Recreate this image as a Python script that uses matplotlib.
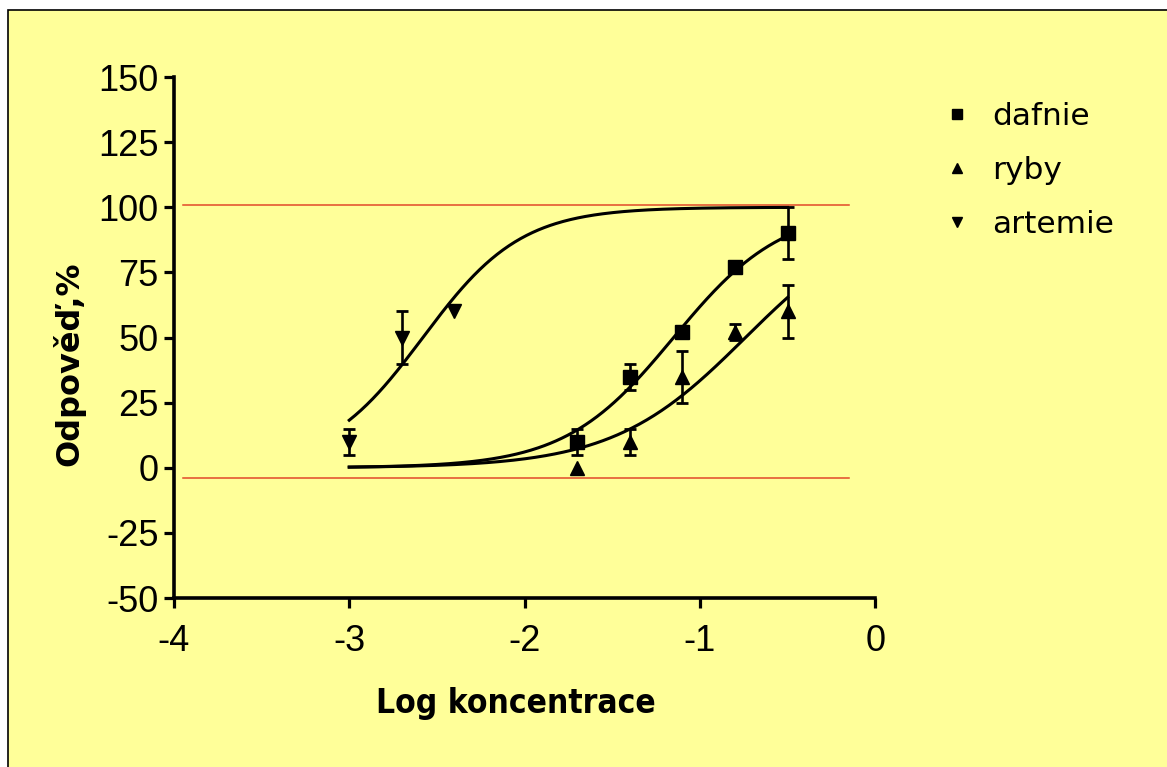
"""Dose-response curves (dafnie / ryby / artemie) on a log concentration axis."""

import numpy as np
import matplotlib
matplotlib.use('Agg')  # Non-interactive backend
import matplotlib.pyplot as plt
from matplotlib.patches import Rectangle

# Measured points (log concentration, response %, error; nan = no error bar)
dafnie_x = [-1.7, -1.4, -1.1, -0.8, -0.5]
dafnie_y = [10, 35, 52, 77, 90]
dafnie_err = [5, 5, 2, 2, 10]

ryby_x = [-1.7, -1.4, -1.1, -0.8, -0.5]
ryby_y = [0, 10, 35, 52, 60]
ryby_err = [np.nan, 5, 10, 3, 10]

artemie_x = [-3.0, -2.7, -2.4]
artemie_y = [10, 50, 60]
artemie_err = [5, 10, np.nan]

# Fitted sigmoid parameters: bottom, top, logEC50, hill slope
dafnie_fit = [0, 100, -1.15, 1.4]
ryby_fit = [0, 100, -0.74, 1.15]
artemie_fit = [0, 100, -2.58, 1.55]
fit_range = [-3.0, -0.5]

# Horizontal reference lines (top / bottom plateau)
ref_levels = [101, -4]
ref_span = [-3.95, -0.15]

x_ticks = [-4, -3, -2, -1, 0]
y_ticks = [-50, -25, 0, 25, 50, 75, 100, 125, 150]

BG = '#FFFF99'
RED = '#E2492A'


def hill(x, bottom, top, logec50, slope):
    return bottom + (top - bottom) / (1 + 10 ** ((logec50 - x) * slope))


fig = plt.figure(figsize=(11.67, 7.67), dpi=100)
fig.patch.set_facecolor('white')
fig.patches.append(Rectangle((8 / 1167, -0.1), 1.2, 1.1 - 10 / 767,
                             transform=fig.transFigure, facecolor=BG,
                             edgecolor='black', linewidth=1.2, zorder=-1))

ax = fig.add_axes([0.149, 0.2203, 0.601, 0.6793])
ax.set_facecolor('none')
ax.set_zorder(1)

for lvl in ref_levels:
    ax.plot(ref_span, [lvl, lvl], color=RED, linewidth=1.1, zorder=1)

xs = np.linspace(fit_range[0], fit_range[1], 300)
for params in (dafnie_fit, ryby_fit, artemie_fit):
    ax.plot(xs, hill(xs, *params), color='black', linewidth=2.2, zorder=2)

err_kw = dict(color='black', ecolor='black', elinewidth=1.9, capsize=4.5,
              capthick=2.0, linestyle='none', zorder=3)
ax.errorbar(dafnie_x, dafnie_y, yerr=dafnie_err, marker='s', markersize=10,
            label='dafnie', **err_kw)
ax.errorbar(ryby_x, ryby_y, yerr=ryby_err, marker='^', markersize=10,
            label='ryby', **err_kw)
ax.errorbar(artemie_x, artemie_y, yerr=artemie_err, marker='v', markersize=10,
            label='artemie', **err_kw)

ax.set_xlim(-4, 0)
ax.set_ylim(-50, 150)
ax.set_xticks(x_ticks)
ax.set_yticks(y_ticks)
ax.set_xticklabels([str(t) for t in x_ticks], family='Liberation Sans', fontsize=26)
ax.set_yticklabels([str(t) for t in y_ticks], family='Liberation Sans', fontsize=26)
ax.tick_params(axis='both', direction='out', length=7, width=2.3, color='black')
ax.tick_params(axis='x', pad=12)
ax.tick_params(axis='y', pad=4)

for side in ('top', 'right'):
    ax.spines[side].set_visible(False)
for side in ('left', 'bottom'):
    ax.spines[side].set_linewidth(2.6)

ax.set_xlabel('Log koncentrace', family='DejaVu Sans', fontweight='bold',
              fontstretch='condensed', fontsize=24)
ax.xaxis.set_label_coords(0.488, -0.17)
ax.set_ylabel('Odpověď,%', family='DejaVu Sans', fontweight='bold', fontsize=23)
ax.yaxis.set_label_coords(-0.126, 0.45)

handles, labels = ax.get_legend_handles_labels()
handles = [h[0] for h in handles]
leg = fig.legend(handles, labels, loc='upper left',
                 bbox_to_anchor=(941 / 1167, 1 - 102 / 767),
                 frameon=False, borderpad=0, borderaxespad=0,
                 handlelength=1.0, handletextpad=0.65, labelspacing=0.8,
                 markerscale=0.75, prop={'family': 'DejaVu Sans', 'size': 22.5})

fig.savefig('out.png', dpi=100, facecolor=fig.get_facecolor())
